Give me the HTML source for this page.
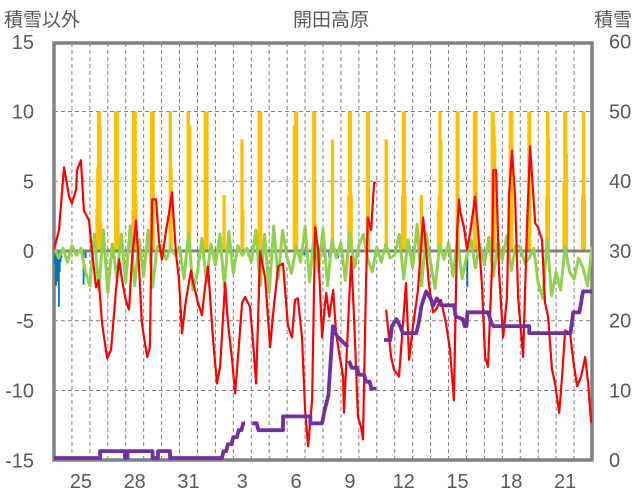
<!DOCTYPE html>
<html><head><meta charset="utf-8">
<style>
html,body{margin:0;padding:0;background:#fff;}
svg{display:block;font-family:"Liberation Sans","Noto Sans CJK JP",sans-serif;}
.tk{font-size:20px;fill:#595959;}
</style></head>
<body>
<svg id="chart" width="636" height="501" viewBox="0 0 636 501" xmlns="http://www.w3.org/2000/svg">
<text x="331" y="26" text-anchor="middle" style="font-size:19px;fill:#595959">開田高原</text>
<text x="4" y="26" style="font-size:19px;fill:#595959">積雪以外</text>
<text x="632" y="26" text-anchor="end" style="font-size:19px;fill:#595959">積雪</text>
<defs><clipPath id="pc"><rect x="54" y="43" width="538" height="419"/></clipPath></defs>
<g id="grid"></g>
<g id="bars" clip-path="url(#pc)"></g>
<g id="lines" clip-path="url(#pc)"></g>
<g id="axes"></g>
</svg>
<script>
// ---- data ----
const dayLabels = ["25","28","31","3","6","9","12","15","18","21"];
const dayLabelIdx = [1,4,7,10,13,16,19,22,25,28];
const leftTicks = [15,10,5,0,-5,-10,-15];
const rightTicks = [60,50,40,30,20,10,0];

const tempDay = [0,0.28,0.56,0.84,1.0,1.23,1.28,1.5,1.67,1.95,2.12,2.34,2.5,2.68,2.96,3.18,3.46,3.63,3.8,4.0,4.18,4.35,4.57,4.74,4.9,5.19,5.35,5.47,5.69,5.86,6.02,6.25,6.41,6.58,6.8,6.97,7.14,7.36,7.64,7.76,8.03,8.25,8.42,8.59,8.87,9.09,9.26,9.54,9.7,9.93,10.1,10.26,10.49,10.65,10.93,11.1,11.27,11.49,11.77,12.05,12.2,12.5,12.77,13.05,13.27,13.44,13.6,13.83,14.0,14.17,14.39,14.56,14.73,14.95,15.1,15.18,15.35,15.57,15.73,15.9,16.12,16.17,16.4,16.57,16.73,16.95,17.12,17.23,17.4,17.5,17.68,17.85,17.95,18.2,18.52,18.8,18.96,19.24,19.46,19.63,19.8,20.02,20.3,20.58,20.75,20.9,21.14,21.3,21.58,21.86,22.08,22.3,22.48,22.58,22.64,22.86,23.03,23.2,23.48,23.65,23.87,24.04,24.2,24.43,24.5,24.65,24.82,25.04,25.26,25.37,25.54,25.71,25.88,26.16,26.37,26.55,26.66,26.83,26.99,27.21,27.38,27.55,27.77,27.94,28.17,28.33,28.5,28.78,28.95,29.17,29.39,29.62,29.79,29.95];
const tempVal = [0.1,1.5,6.0,3.9,3.4,4.4,5.8,6.5,2.9,2.2,0,-2.6,-2.1,-5.2,-7.7,-7.1,-2.8,-0.6,-2.1,-3.5,-4.2,-0.6,2.2,-1.1,-5.2,-7.6,-6.9,3.7,3.7,0.6,-0.6,1.5,2.7,4.2,-0.1,-2.1,-5.9,-3.5,-1.4,-2.3,-3.7,-4.6,-2.6,-1.1,-6.4,-9.5,-8.3,-2.3,-5.2,-7.8,-10.2,-7.6,-3.7,-3.3,-4.0,-6.6,-9.5,-0.1,-1.9,-6.9,-4.7,-1.1,-0.9,-5.4,-6.2,-3.5,-3.4,-6.2,-11.4,-14.0,-10.7,1.7,0.1,-6.2,-4.0,-3.0,-4.7,-2.8,-5.9,-7.3,-9.0,-11.6,-5.2,-0.4,-4.7,-11.9,-12.6,-13.5,-2.3,2.4,1.5,4.9,4.9,null,-4.2,-7.6,-8.5,-9.0,-5.2,-2.3,-7.8,-5.4,-2.8,2.4,0.1,-2.3,-4.4,-4.2,-3.5,-5.2,-7.1,-10.7,1.3,3.7,2.9,1.7,0.1,1.3,3.9,1.5,-2.6,-7.6,-8.3,-0.9,5.8,5.8,-1.6,-6.2,-3.3,3.9,7.2,3.9,-3.3,-7.6,1.5,7.5,5.3,2.0,1.7,0.8,-3.7,-4.7,-8.5,-9.5,-11.6,-9.0,-5.7,-5.9,-7.8,-9.7,-9.0,-7.6,-9.5,-12.3];

const otherVal = [0.3,-0.5,0.2,-0.8,0.4,-0.3,0.2,-1.5,
-2.5,1.2,-2.8,1.5,-3,0.5,-2,1.2,
-2.2,1.8,-2.5,0.8,-1.8,1.5,-2.6,0.3,
0.4,-0.6,0.2,-0.3,0.3,-2.0,1.3,-2.8,
-1.5,0.9,-2.2,0.5,-1.0,1.2,-2.6,1.4,
-1.6,0.4,-0.3,0.2,-0.8,1.5,-2.5,1.2,
-3.0,1.8,-2.0,1.5,-0.5,-1.6,0.3,-0.8,
1.8,-2.2,1.0,-1.5,1.6,-2.5,0.8,-0.5,
0.6,-2.1,1.3,-1.2,0.4,1.2,-0.6,-1.5,
0.3,-0.8,0.5,-0.5,-0.3,1.2,-2.0,0.8,
-1.2,1.9,-2.5,1.3,-0.8,-2.7,0.4,-0.6,
0.6,-1.8,0.9,-2.0,-0.4,0.8,-1.2,0.5,
-1.0,1.0,-1.8,0.6,-0.6,1.1,-1.4,0.4,
0.3,-0.9,-0.5,0.2,-2.3,-3.4,0.8,-3.2,
-1.5,-2.8,0.3,-1.5,-2.0,-0.5,-1.2,-2.5,0.3];
const otherStep = 0.25;

const snowDay = [0,2.57,2.57,3.96,3.96,4.1,4.1,5.5,5.5,5.8,5.8,6.47,6.47,9.37,9.45,9.6,9.7,9.9,10.0,10.2,10.3,10.45,10.55,10.65,10.8,11.05,11.3,11.4,12.77,12.77,14.3,14.3,14.95,15.1,15.3,15.55,15.7,15.8,16.0,16.2,16.4,16.42,16.45,16.6,16.9,17.0,17.3,17.4,17.6,17.7,17.96,18.2,18.4,18.75,18.85,19.1,19.3,19.45,20.2,20.35,20.5,20.75,21.0,21.15,21.35,21.6,22.3,22.4,22.8,22.9,23.0,23.05,24.2,24.4,24.5,26.5,26.5,28.8,28.95,29.3,29.5,30];
const snowVal = [0,0,1,1,0,0,1,1,0,0,1,1,0,0,1,1,2,2,3,3,4,4,5,5,null,5,5,4,4,6,6,5,5,7,9,19,18,17.5,17,16.5,16,null,14,13,13,12,12,11,11,10,10,null,17,17,19,20,19,18,18,19.6,22,24,23,22,23,22,22,20.4,20,19,19,21,21,19.4,19,19,18,18,21,21,24,24];

const sunDay = [2,3,4,5,6,7,8,9,10,11,13,14,15,16,17,18,19,20,21,22,23,24,25,26,27,28,29];
const sunVals = [[3,6,10,10,9,2],[0,10,10,10,3,0],[3,10,10,10,4,0],[0,10,10,10,0,0],[0,0,10,6,0,0],[0,0,10,9,9,0],[0,10,10,10,0,0],[0,0,4,0,0,0],[0,0,8,3,0,0],[0,10,10,10,0,0],[9,7,10,10,0,0],[0,0,10,10,2,0],[0,0,0,8,0,0],[0,4,10,10,4,0],[0,0,10,10,0,0],[0,0,0,8,0,0],[0,4,10,10,4,0],[0,0,4,0,0,0],[0,3,4,10,8,0],[0,0,10,10,0,0],[0,10,10,10,0,0],[0,10,10,9,8,0],[0,10,10,10,0,0],[0,0,10,10,0,0],[0,0,4,10,8,0],[0,5,10,10,7,0],[0,0,4,10,4,0]];

const precipDay = [0.02,0.06,0.1,0.14,0.18,0.22,0.27,0.31,0.36,1.6,1.72,9.0,13.9,15.3,15.8,16.3,23.0];
const precipVal = [-1,-2.5,-1.5,-2.2,-1,-4,-1.5,-0.8,-0.5,-2.4,-0.5,-0.4,-0.3,-0.5,-0.5,-0.5,-2.6];

// ---- axes functions ----
const X0=54, X1=592, NDAYS=30;
function xs(d){return X0 + d*(X1-X0)/NDAYS;}
function yl(v){return 251 - v*13.95;}
function yr(v){return 458 - v*6.94;}
const NS='http://www.w3.org/2000/svg';
function mk(tag, attrs, parent){const e=document.createElementNS(NS,tag);for(const k in attrs)e.setAttribute(k,attrs[k]);parent.appendChild(e);return e;}
const grid=document.getElementById('grid'), bars=document.getElementById('bars'), lines=document.getElementById('lines'), axes=document.getElementById('axes');

for(let d=1; d<NDAYS; d++){
  const l=mk('line',{x1:xs(d),x2:xs(d),y1:43,y2:460,stroke:'#808080','stroke-width':1,'stroke-dasharray':'4 3'},grid);
  
  
}
leftTicks.forEach(v=>{
  if(v!==0 && Math.abs(v)!==15){
    const l=mk('line',{x1:X0,x2:X1,y1:yl(v),y2:yl(v),stroke:'#808080','stroke-width':1,'stroke-dasharray':'4 3'},grid);
    
    
  }
  const t=mk('text',{x:34,y:yl(v)+7,'text-anchor':'end',class:'tk'},axes);
  t.textContent=v;
  
  
});
rightTicks.forEach(v=>{
  const t=mk('text',{x:609,y:(460 - v*6.975)+7,class:'tk'},axes);
  t.textContent=v;
  
  
});
dayLabels.forEach((s,i)=>{
  const t=mk('text',{x:xs(dayLabelIdx[i]+0.5),y:488,'text-anchor':'middle',class:'tk'},axes);
  t.textContent=s;
  
  
});
const f=mk('rect',{x:X0,y:43,width:X1-X0,height:417,fill:'none',stroke:'#808080','stroke-width':3.5},grid);



// orange bars
const hw=(X1-X0)/NDAYS/24;
sunDay.forEach((d,i)=>{
  sunVals[i].forEach((v,h)=>{
    if(v<=0) return;
    const x=xs(d+0.375+h/24);
    const r=mk('rect',{x:x-1.2,y:yl(v),width:hw+2.6,height:yl(0)-yl(v),fill:'#ffc000'},bars);
    
    
  });
});
precipDay.forEach((d,i)=>{
  const v=precipVal[i];
  const r=mk('rect',{x:xs(d),y:yl(0),width:1.8,height:yl(v)-yl(0),fill:'#0070c0'},bars);
  
  
});
const z=mk('line',{x1:X0,x2:X1,y1:yl(0),y2:yl(0),stroke:'#808080','stroke-width':3},bars);



function pathFrom(days, vals, yf){
  let s='', pen=false;
  days.forEach((d,i)=>{
    const v=vals[i];
    if(v===null){pen=false;return;}
    s+=(pen?'L':'M')+xs(d).toFixed(1)+' '+yf(v).toFixed(1)+' ';
    pen=true;
  });
  return s;
}
const gDays=otherVal.map((v,i)=>i*otherStep);
const g=mk('path',{d:pathFrom(gDays,otherVal,yl),fill:'none',stroke:'#92d050','stroke-width':3,'stroke-linejoin':'round'},lines);


const r=mk('path',{d:pathFrom(tempDay,tempVal,yl),fill:'none',stroke:'#ff0000','stroke-width':2.2,'stroke-linejoin':'round'},lines);


const p=mk('path',{d:pathFrom(snowDay,snowVal,yr),fill:'none',stroke:'#7030a0','stroke-width':3.8,'stroke-linejoin':'round'},lines);


</script>
</body></html>
